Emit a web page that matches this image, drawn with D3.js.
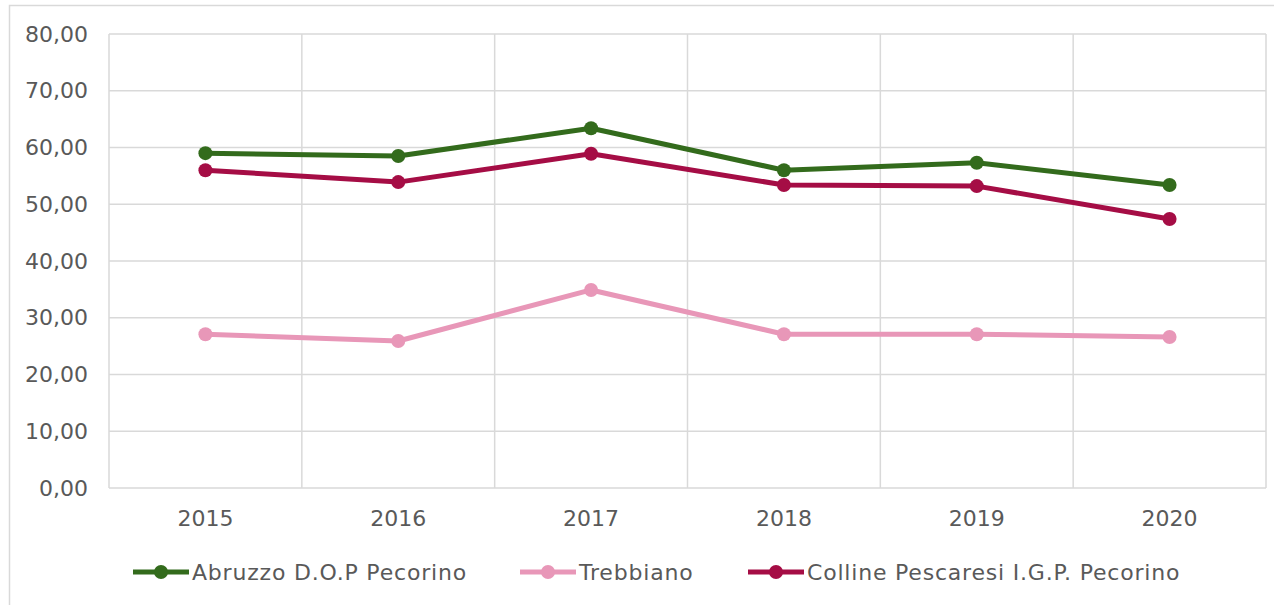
<!doctype html>
<html lang="it">
<head>
  <meta charset="utf-8">
  <title>Prezzi Pecorino / Trebbiano</title>
  <script src="https://d3js.org/d3.v7.min.js"></script>
  <style>
    body { margin: 0; background: #fff; }
    svg { display: block; font-family: "DejaVu Sans", sans-serif; }
  </style>
</head>
<body>
  <script type="text/javascript">
    var years = ["2015", "2016", "2017", "2018", "2019", "2020"];
    var abruzzo = [59.0, 58.5, 63.4, 56.0, 57.3, 53.4];
    var trebbiano = [27.1, 25.9, 34.9, 27.1, 27.1, 26.6];
    var colline = [56.0, 53.9, 58.9, 53.4, 53.2, 47.4];
    var seriesNames = ["Abruzzo D.O.P Pecorino", "Trebbiano", "Colline Pescaresi I.G.P. Pecorino"];
    var yTicks = [0, 10, 20, 30, 40, 50, 60, 70, 80];

    var colors = ["#336b1c", "#e897b8", "#a50d45"];
    var series = [abruzzo, trebbiano, colline];

    var width = 1274, height = 605;
    var plot = { left: 109, right: 1266, top: 34, bottom: 488 };
    var font = "'DejaVu Sans', sans-serif";

    var svg = d3.select("body").append("svg")
      .attr("width", width)
      .attr("height", height);

    // outer chart border (runs off the right / bottom of the frame)
    svg.append("rect")
      .attr("x", 9.5).attr("y", 5.5)
      .attr("width", 1300).attr("height", 700)
      .attr("fill", "none")
      .attr("stroke", "#d9d9d9")
      .attr("stroke-width", 1.5);

    var x = d3.scaleBand()
      .domain(years)
      .range([plot.left, plot.right]);

    var y = d3.scaleLinear()
      .domain([0, 80])
      .range([plot.bottom, plot.top]);

    // horizontal grid
    svg.append("g")
      .selectAll("line")
      .data(yTicks)
      .join("line")
      .attr("x1", plot.left).attr("x2", plot.right)
      .attr("y1", d => y(d)).attr("y2", d => y(d))
      .attr("stroke", "#d9d9d9").attr("stroke-width", 1.5);

    // vertical grid at band edges
    var edges = years.map(d => x(d)).concat([plot.right]);
    svg.append("g")
      .selectAll("line")
      .data(edges)
      .join("line")
      .attr("x1", d => d).attr("x2", d => d)
      .attr("y1", plot.top).attr("y2", plot.bottom)
      .attr("stroke", "#d9d9d9").attr("stroke-width", 1.5);

    // y axis labels
    var yAxis = d3.axisLeft(y)
      .tickValues(yTicks)
      .tickSize(0)
      .tickPadding(21)
      .tickFormat(d => d3.format(".2f")(d).replace(".", ","));
    var yg = svg.append("g")
      .attr("transform", "translate(" + plot.left + ",0)")
      .call(yAxis);
    yg.select(".domain").remove();
    yg.selectAll("text")
      .attr("fill", "#595959")
      .style("font-size", "22px")
      .style("font-family", font);

    // x axis labels
    var xAxis = d3.axisBottom(x).tickSize(0).tickPadding(22);
    var xg = svg.append("g")
      .attr("transform", "translate(0," + plot.bottom + ")")
      .call(xAxis);
    xg.select(".domain").remove();
    xg.selectAll("text")
      .attr("fill", "#595959")
      .style("font-size", "22px")
      .style("font-family", font);

    var line = d3.line()
      .x((d, i) => x(years[i]) + x.bandwidth() / 2)
      .y(d => y(d));

    series.forEach(function (values, s) {
      var g = svg.append("g");
      g.append("path")
        .datum(values)
        .attr("fill", "none")
        .attr("stroke", colors[s])
        .attr("stroke-width", 5)
        .attr("stroke-linejoin", "round")
        .attr("d", line);
      g.selectAll("circle")
        .data(values)
        .join("circle")
        .attr("cx", (d, i) => x(years[i]) + x.bandwidth() / 2)
        .attr("cy", d => y(d))
        .attr("r", 7)
        .attr("fill", colors[s]);
    });

    // legend
    var legendX = [133, 520, 748];
    var legend = svg.append("g").attr("transform", "translate(0,572)");
    seriesNames.forEach(function (name, i) {
      var lg = legend.append("g").attr("transform", "translate(" + legendX[i] + ",0)");
      lg.append("line")
        .attr("x1", 0).attr("x2", 56)
        .attr("stroke", colors[i]).attr("stroke-width", 5);
      lg.append("circle")
        .attr("cx", 28).attr("r", 7).attr("fill", colors[i]);
      lg.append("text")
        .attr("x", 59).attr("dy", "0.35em")
        .attr("fill", "#595959")
        .style("font-size", "22px")
        .style("letter-spacing", "0.8px")
        .style("font-family", font)
        .text(name);
    });
  </script>
</body>
</html>
